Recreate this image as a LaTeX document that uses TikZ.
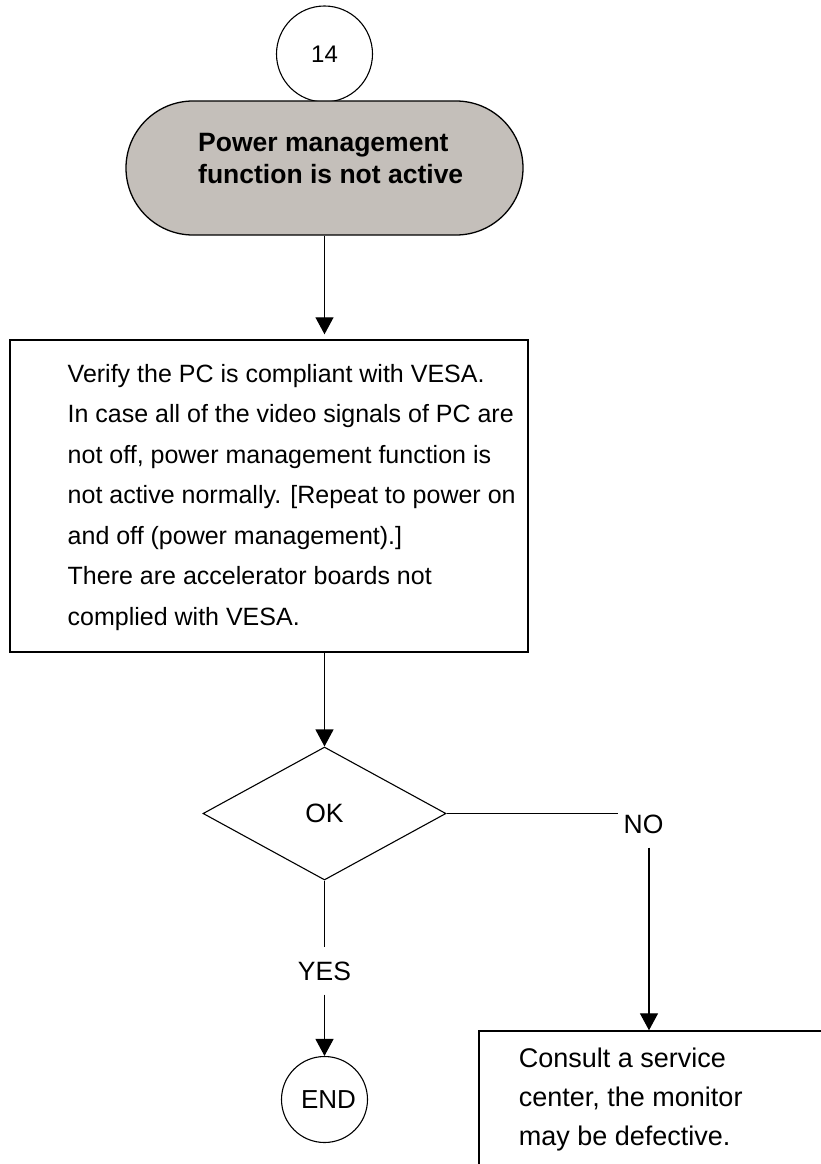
\documentclass[tikz,border=0pt]{standalone}
\usepackage{fontspec}
\setmainfont{Liberation Sans}
\usetikzlibrary{arrows.meta,shapes.geometric}
\definecolor{termgray}{RGB}{196,191,186}
\begin{document}
\begin{tikzpicture}[x=1pt,y=-1pt,
  conn/.style={draw=black, line width=1.2pt},
  arrowconn/.style={conn, -{Triangle[width=18pt,length=17pt]}},
  connector/.style={circle, draw, line width=1.1pt, inner sep=0pt},
  terminal/.style={draw, fill=termgray, line width=1.3pt, rounded corners=67pt,
    minimum width=397pt, minimum height=134pt, inner sep=0pt},
  procbox/.style={draw, line width=1.4pt, rectangle, inner sep=0pt},
  decision/.style={diamond, draw, line width=1.1pt, aspect=1.83,
    minimum width=243pt, minimum height=133pt, inner sep=0pt},
  bodytext/.style={align=left, inner sep=0pt, anchor=north west},
  branch/.style={text height=19pt, text depth=0pt, inner ysep=14pt, inner xsep=5pt,
    font=\fontsize{26.5}{30}\selectfont}
]
\useasboundingbox (0,0) rectangle (821,1164);
\clip (0,0) rectangle (821,1164);

% start connector and terminal
\node[connector, minimum size=96pt, font=\fontsize{24}{28}\selectfont] (start) at (324.5,54) {14};
\node[terminal] (term) at (324.5,168) {};
\node[inner sep=0pt, anchor=west, align=left, font=\bfseries\fontsize{26.5}{32}\selectfont]
  (termtext) at (198,158.5) {Power management\\function is not active};

% check box
\node[procbox, minimum width=518pt, minimum height=312pt] (verify) at (269,496) {};
\node[bodytext, font=\fontsize{25}{40.5}\selectfont] (verifytext) at (67.5,363.8)
  {Verify the PC is compliant with VESA.\\
   In case all of the video signals of PC are\\
   not off, power management function is\\
   not active normally. [Repeat to power on\\
   and off (power management).]\\
   There are accelerator boards not\\
   complied with VESA.};

% decision
\node[decision, font=\fontsize{26.5}{30}\selectfont] (dec) at (324.5,813.5) {OK};

% branch labels
\node[branch] (yes) at (324.5,971) {YES};
\node[branch] (no) at (643.5,824) {NO};
\coordinate (nodrop) at ([xshift=5.5pt]no.south);

% end connector
\node[connector, minimum size=86pt, font=\fontsize{26}{30}\selectfont] (endc) at (324.5,1099.5) {\hspace*{8pt}END};

% service box
\node[procbox, minimum width=401pt, minimum height=169pt] (cons) at (679.5,1115.5) {};
\node[bodytext, font=\fontsize{27}{39.3}\selectfont] (constext) at (518.7,1047.3)
  {Consult a service\\center, the monitor\\may be defective.};

% connectors
\draw[arrowconn, shorten >=5pt] (term.south) -- (term.south |- verify.north);
\draw[arrowconn] (dec.north |- verify.south) -- (dec.north);
\draw[conn] (dec.east) -- (dec.east -| no.west);
\draw[arrowconn] (nodrop) -- (nodrop |- cons.north);
\draw[conn] (dec.south) -- (yes.north);
\draw[arrowconn] (yes.south) -- (endc.north);
\end{tikzpicture}
\end{document}
